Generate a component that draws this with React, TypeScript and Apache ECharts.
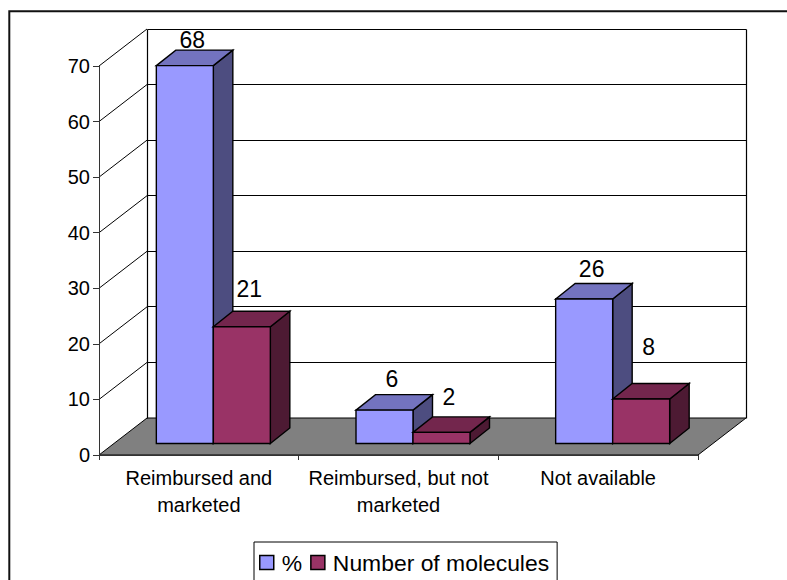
import React, { useEffect, useRef } from "react";
import * as echarts from "echarts";

const categories = ["Reimbursed and\nmarketed", "Reimbursed, but not\nmarketed", "Not available"];
const percentValues = [68, 6, 26];
const moleculeValues = [21, 2, 8];
const yTicks = [0, 10, 20, 30, 40, 50, 60, 70];

const percentLabelRise = [25.5, 31, 30];
const moleculeLabelRise = [38, 35, 52];

const FONT = '"Liberation Sans", Arial, sans-serif';
const WALL_DX = 48;
const WALL_DY = -37;
const BAR_DX = 14.5;
const BAR_DY = -11.5;
const DEPTH_DX = 19.5;
const DEPTH_DY = -15.5;
const BAR_W = 57;

const crisp = (v: number) => Math.round(v - 0.5) + 0.5;

function line(x1: number, y1: number, x2: number, y2: number, width = 1, stroke = "#000") {
  return { type: "line", shape: { x1, y1, x2, y2 }, style: { stroke, lineWidth: width, fill: "none" } };
}

function poly(points: number[][], fill: string, width = 1.4) {
  return { type: "polygon", shape: { points }, style: { fill, stroke: "#000", lineWidth: width } };
}

function wallRenderer(params: any, api: any) {
  const v = api.value(1);
  const cs = params.coordSys;
  const y = api.coord([0, v])[1];
  const x0 = cs.x;
  const x1 = cs.x + cs.width;
  const backY = crisp(y + WALL_DY);
  const children: any[] = [];
  if (v === 0) {
    const top = api.coord([0, yTicks[yTicks.length - 1]])[1];
    children.push(
      poly([[x0, y], [x1, y], [x1 + WALL_DX, y + WALL_DY], [x0 + WALL_DX, y + WALL_DY]], "#808080", 1),
      line(crisp(x0 + WALL_DX), crisp(top + WALL_DY), crisp(x0 + WALL_DX), backY, 1.2),
      line(crisp(x1 + WALL_DX), crisp(top + WALL_DY), crisp(x1 + WALL_DX), backY, 1.2),
    );
  } else {
    children.push(
      line(x0, y, x0 + WALL_DX, y + WALL_DY, 1),
      line(crisp(x0 + WALL_DX), backY, crisp(x1 + WALL_DX), backY, 1.2),
    );
  }
  return { type: "group", children };
}

function barRenderer(front: string, top: string, side: string, seriesPos: number, rises: number[]) {
  return (params: any, api: any) => {
    const i = api.value(0);
    const v = api.value(1);
    const base = api.coord([i, 0]);
    const head = api.coord([i, v]);
    const left = base[0] + BAR_DX + (seriesPos - 1) * BAR_W;
    const right = left + BAR_W;
    const b = base[1] + BAR_DY;
    const t = head[1] + BAR_DY;
    return {
      type: "group",
      children: [
        poly([[right, b], [right + DEPTH_DX, b + DEPTH_DY], [right + DEPTH_DX, t + DEPTH_DY], [right, t]], side),
        poly([[left, t], [right, t], [right + DEPTH_DX, t + DEPTH_DY], [left + DEPTH_DX, t + DEPTH_DY]], top),
        poly([[left, b], [right, b], [right, t], [left, t]], front),
        {
          type: "text",
          x: (left + right) / 2 + 7.5,
          y: t - rises[params.dataIndex],
          style: {
            text: String(v),
            fill: "#000",
            font: `23px ${FONT}`,
            align: "center",
            verticalAlign: "middle",
          },
        },
      ],
    };
  };
}

export default function App() {
  const ref = useRef<HTMLDivElement>(null);
  useEffect(() => {
    const chart = echarts.init(ref.current!, undefined, { renderer: "svg" });
    chart.setOption({
      animation: false,
      backgroundColor: "#fff",
      textStyle: { fontFamily: FONT },
      graphic: [
        {
          type: "rect",
          z: -10,
          silent: true,
          shape: { x: 9.3, y: 11.3, width: 1000, height: 800 },
          style: { fill: "none", stroke: "#111", lineWidth: 2 },
        },
      ],
      grid: { left: 99, top: 66, width: 599, height: 389 },
      legend: {
        left: 254,
        top: 542,
        orient: "horizontal",
        padding: [9, 8, 11, 5],
        borderColor: "#000",
        borderWidth: 1,
        itemWidth: 14,
        itemHeight: 14,
        itemGap: 8,
        textStyle: { fontSize: 22.9, color: "#000", fontFamily: FONT, padding: [0, 0, 0, 3] },
        data: [
          { name: "%", icon: "rect", itemStyle: { color: "#9999FF", borderColor: "#000", borderWidth: 1.5 } },
          { name: "Number of molecules", icon: "rect", itemStyle: { color: "#993366", borderColor: "#000", borderWidth: 1.5 } },
        ],
      },
      xAxis: {
        type: "category",
        data: categories,
        axisLine: { lineStyle: { color: "#333", width: 1 } },
        axisTick: { show: true, alignWithLabel: false, length: 5, lineStyle: { color: "#333" } },
        axisLabel: { fontSize: 20, color: "#000", margin: 9, lineHeight: 27, fontFamily: FONT, interval: 0 },
        splitLine: { show: false },
        z: 5,
      },
      yAxis: {
        type: "value",
        min: 0,
        max: 70,
        interval: 10,
        axisLine: { show: true, lineStyle: { color: "#333", width: 1 } },
        axisTick: { show: true, length: 6, lineStyle: { color: "#333" } },
        axisLabel: { fontSize: 20, color: "#000", margin: 9, fontFamily: FONT },
        splitLine: { show: false },
        z: 5,
      },
      series: [
        {
          type: "custom",
          name: "walls",
          z: 1,
          silent: true,
          renderItem: wallRenderer,
          encode: { x: 0, y: 1 },
          data: yTicks.map((t) => [0, t]),
        },
        {
          type: "custom",
          name: "%",
          z: 2,
          itemStyle: { color: "#9999FF" },
          renderItem: barRenderer("#9999FF", "#7373BF", "#4D4D80", 0, percentLabelRise),
          encode: { x: 0, y: 1 },
          data: percentValues.map((v, i) => [i, v]),
        },
        {
          type: "custom",
          name: "Number of molecules",
          z: 3,
          itemStyle: { color: "#993366" },
          renderItem: barRenderer("#993366", "#73264D", "#4D1A33", 1, moleculeLabelRise),
          encode: { x: 0, y: 1 },
          data: moleculeValues.map((v, i) => [i, v]),
        },
      ],
    });
    return () => chart.dispose();
  }, []);
  return (
    <div
      ref={ref}
      style={{ position: "fixed", left: 0, top: 0, width: 787, height: 580, overflow: "hidden", background: "#fff" }}
    />
  );
}
